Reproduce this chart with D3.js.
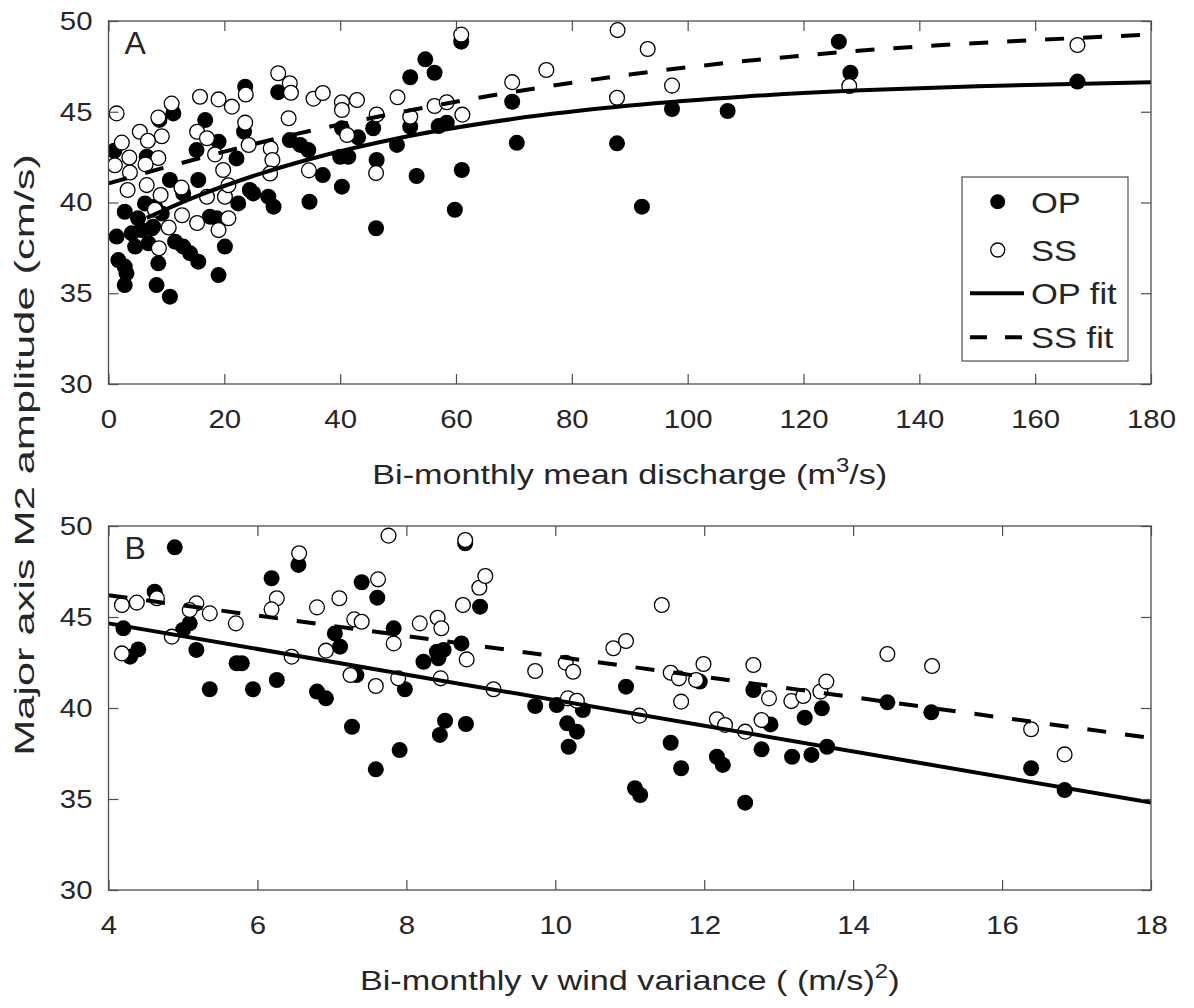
<!DOCTYPE html>
<html><head><meta charset="utf-8">
<script src="https://cdn.jsdelivr.net/npm/d3@7"></script>
<style>
body{margin:0;background:#fff;}
text{font-family:"Liberation Sans",Arial,Helvetica,sans-serif;fill:#262626;}
</style></head>
<body><svg id="chart" width="1194" height="1008"></svg>
<script>
// ---------- DATA ----------
const xTicksA = [0,20,40,60,80,100,120,140,160,180];
const xTicksB = [4,6,8,10,12,14,16,18];
const yTicks = [30,35,40,45,50];

// Panel A: OP (filled) vs discharge
const opA_x = [1.0,6.6,10.6,15.2,15.5,19.0,22.1,11.2,8.8,16.7,23.6,23.4,29.3,2.8,5.1,8.0,6.3,7.5,1.4,4.0,5.7,4.6,6.9,11.5,12.9,14.1,15.5,8.6,1.7,2.8,3.1,2.8,8.3,10.6,19.0,20.1,12.9,22.4,17.5,18.7,24.4,25.0,27.6,28.5,31.3,33.1,34.5,37.0,34.7,40.3,40.0,41.4,40.3,43.1,45.7,46.3,46.2,49.8,52.1,53.2,52.1,54.7,56.3,57.0,58.4,59.8,60.9,61.0,69.7,70.5,87.8,92.1,97.3,106.9,126.1,128.1,167.3,9.2,7.7];
const opA_y = [42.85,42.52,41.24,42.89,41.24,43.35,42.43,44.91,44.55,44.54,46.38,43.90,46.08,39.49,39.13,39.77,39.95,38.58,38.12,38.30,38.48,37.57,37.75,37.84,37.57,37.20,36.74,36.65,36.83,36.47,36.10,35.45,35.45,34.81,36.00,37.57,40.50,39.95,39.22,39.13,40.69,40.50,40.32,39.77,43.44,43.17,42.89,41.51,40.04,40.87,42.52,42.52,44.09,43.59,44.09,42.34,38.58,43.17,44.18,41.46,46.90,47.89,47.15,44.21,44.40,39.60,48.86,41.79,45.55,43.29,43.26,39.77,45.15,45.04,48.86,47.15,46.66,39.40,38.67];

// Panel A: SS (open) vs discharge
const ssA_x = [1.4,29.3,31.3,31.5,23.7,15.8,19.0,21.3,10.9,8.6,35.4,37.0,40.3,42.9,40.3,49.9,46.3,31.1,23.6,5.4,9.2,15.3,17.0,2.3,6.8,8.6,3.6,28.0,28.3,18.4,24.2,1.1,3.7,6.4,19.8,27.9,34.6,3.3,6.6,9.0,12.6,17.0,20.1,20.7,8.0,12.7,15.3,10.4,19.0,20.7,8.7,41.2,46.2,52.1,56.3,58.4,61.1,60.9,69.7,75.6,87.9,93.1,87.8,97.3,127.9,167.3];
const ssA_y = [44.91,47.12,46.57,46.05,45.95,45.83,45.68,45.28,45.45,44.68,45.72,46.03,45.52,45.65,45.10,45.80,44.85,44.64,44.40,43.90,43.65,43.90,43.54,43.30,43.40,42.45,42.48,42.98,42.34,42.65,43.17,42.05,41.65,42.10,41.79,41.60,41.77,40.69,40.96,40.41,40.82,40.32,40.32,40.95,39.60,39.30,38.87,38.62,38.48,39.13,37.48,43.72,41.62,44.73,45.32,45.52,44.84,49.25,46.63,47.30,49.50,48.46,45.77,46.44,46.42,48.68];

// Panel B: OP (filled) vs wind variance
const opB_x = [4.89,4.62,6.55,6.19,7.40,7.61,8.79,8.99,4.20,4.40,4.29,5.09,5.00,5.18,5.36,5.72,5.79,5.94,6.26,6.80,6.92,7.04,7.11,7.27,7.59,7.91,7.83,7.33,7.98,8.23,8.41,8.50,8.43,8.74,8.52,8.45,8.80,9.73,10.02,10.16,10.29,10.18,10.37,10.95,11.07,11.14,11.55,11.69,12.17,12.25,12.55,12.66,12.77,12.89,13.18,13.35,13.44,13.65,13.58,11.94,14.46,15.05,16.39,16.84];
const opB_y = [48.83,46.39,47.86,47.13,46.91,46.06,49.05,45.57,44.38,43.22,42.82,44.65,44.29,43.19,41.03,42.46,42.46,41.03,41.54,40.90,40.53,44.10,43.37,38.97,36.63,37.69,44.38,41.81,41.03,42.54,43.09,43.19,42.73,43.55,39.30,38.52,39.12,40.11,40.16,39.16,38.70,37.87,39.89,41.17,35.59,35.22,38.09,36.69,37.32,36.87,34.80,40.99,37.73,39.10,37.32,39.47,37.42,37.87,39.98,41.45,40.31,39.76,36.69,35.49];

// Panel B: SS (open) vs wind variance
const ssB_x = [4.18,4.18,4.38,4.85,5.18,5.09,5.36,5.71,6.56,6.26,6.19,6.46,6.80,7.10,6.92,7.30,7.40,7.25,7.62,7.76,7.59,7.83,7.89,8.18,8.42,8.47,8.46,8.76,8.81,8.98,9.06,9.17,11.43,10.78,10.95,9.73,10.14,10.24,10.17,10.29,11.13,11.55,11.66,11.69,11.89,11.99,12.17,12.28,12.55,12.66,12.77,12.87,13.17,13.33,13.56,13.64,14.46,15.06,16.39,16.84,8.79,4.65];
const ssB_y = [45.66,43.00,45.79,43.92,45.75,45.38,45.20,44.65,48.50,46.03,45.42,42.82,45.53,46.03,43.15,44.87,44.74,41.81,47.07,49.47,41.21,43.55,41.63,44.65,44.96,44.38,41.63,45.66,42.67,46.61,47.25,41.03,45.66,43.28,43.68,42.03,42.49,41.99,40.53,40.40,39.58,41.94,41.63,40.35,41.54,42.42,39.38,39.07,38.70,42.36,39.34,40.53,40.38,40.66,40.90,41.45,42.97,42.31,38.83,37.45,49.23,46.03];

// Fit curves
const opFitA_x = [6.6,15,25,35,50,70,90,110,130,150,180];
const opFitA_y = [39.15,40.31,41.46,42.41,43.54,44.61,45.34,45.84,46.18,46.41,46.62];
const ssFitA_x = [0,10,20,30,40,50,60,70,80,90,100,120,140,160,180];
const ssFitA_y = [41.05,41.95,42.8,43.6,44.3,44.95,45.55,46.1,46.6,47.05,47.45,48.1,48.6,48.95,49.25];
const opFitB_x = [4,18];
const opFitB_y = [44.65,34.8];
const ssFitB_x = [4,18];
const ssFitB_y = [46.2,38.35];

const legendLabels = ["OP","SS","OP fit","SS fit"];

// ---------- DRAW ----------
const svg = d3.select("#chart");
const L = 108.5, R = 1151;
const panels = [
  {top:21, bot:384, dom:[0,180], ticks:xTicksA, letter:"A",
   op:[opA_x,opA_y], ss:[ssA_x,ssA_y], opFit:[opFitA_x,opFitA_y], ssFit:[ssFitA_x,ssFitA_y],
   title:["Bi-monthly mean discharge (m","3","/s)"], legend:true},
  {top:526, bot:890, dom:[4,18], ticks:xTicksB, letter:"B",
   op:[opB_x,opB_y], ss:[ssB_x,ssB_y], opFit:[opFitB_x,opFitB_y], ssFit:[ssFitB_x,ssFitB_y],
   title:["Bi-monthly v wind variance ( (m/s)","2",")"], legend:false}
];
const axisCol = "#4d4d4d", txtCol = "#262626";
const R_PT = 8;
const tickFont = 26, labFont = 28.5;

function stretch(sel, k) {
  sel.each(function(){
    const w = this.getComputedTextLength();
    d3.select(this).attr("textLength", w*k).attr("lengthAdjust","spacingAndGlyphs");
  });
}

panels.forEach(p => {
  const x = d3.scaleLinear().domain(p.dom).range([L,R]);
  const y = d3.scaleLinear().domain([30,50]).range([p.bot,p.top]);
  const g = svg.append("g");

  const zipP = (a) => a[0].map((v,i)=>[v,a[1][i]]);
  const clip = "clip"+p.letter;
  g.append("clipPath").attr("id",clip).append("rect").attr("x",L).attr("y",p.top).attr("width",R-L).attr("height",p.bot-p.top);
  const pg = g.append("g").attr("clip-path",`url(#${clip})`);
  pg.selectAll("circle.op").data(zipP(p.op)).join("circle").attr("class","op")
    .attr("cx",d=>x(d[0])).attr("cy",d=>y(d[1])).attr("r",R_PT).attr("fill","#000");
  pg.selectAll("circle.ss").data(zipP(p.ss)).join("circle").attr("class","ss")
    .attr("cx",d=>x(d[0])).attr("cy",d=>y(d[1])).attr("r",R_PT-0.6).attr("fill","#fff").attr("stroke","#000").attr("stroke-width",1.3);
  const line = d3.line().x(d=>x(d[0])).y(d=>y(d[1])).curve(d3.curveMonotoneX);
  pg.append("path").datum(zipP(p.opFit)).attr("d",line).attr("fill","none").attr("stroke","#000").attr("stroke-width",4);
  pg.append("path").datum(zipP(p.ssFit)).attr("d",line).attr("fill","none").attr("stroke","#000").attr("stroke-width",4).attr("stroke-dasharray","19,19");

  // axes (ticks inside, MATLAB box)
  const ax = (gen, tr) => {
    const a = g.append("g").attr("transform",tr).call(gen);
    a.select(".domain").remove();
    a.selectAll("line").attr("stroke",axisCol).attr("stroke-width",1.2);
    a.selectAll("text").attr("fill",txtCol).style("font-size",tickFont+"px").attr("font-family",null);
    stretch(a.selectAll("text"), 1.13);
    return a;
  };
  ax(d3.axisBottom(x).tickValues(p.ticks).tickSize(-10).tickSizeOuter(0).tickPadding(26).tickFormat(d3.format("d")), `translate(0,${p.bot})`);
  ax(d3.axisTop(x).tickValues(p.ticks).tickSize(-10).tickSizeOuter(0).tickFormat(""), `translate(0,${p.top})`);
  ax(d3.axisLeft(y).tickValues(yTicks).tickSize(-10).tickSizeOuter(0).tickPadding(16).tickFormat(d3.format("d")), `translate(${L},0)`);
  ax(d3.axisRight(y).tickValues(yTicks).tickSize(-10).tickSizeOuter(0).tickFormat(""), `translate(${R},0)`);
  g.append("rect").attr("x",L).attr("y",p.top).attr("width",R-L).attr("height",p.bot-p.top)
    .attr("fill","none").attr("stroke",axisCol).attr("stroke-width",1.3);

  g.append("text").attr("x",L+16).attr("y",p.top+33).text(p.letter).style("font-size","32px").attr("fill","#000");

  const tg = g.append("g").attr("transform",`translate(${(L+R)/2},${p.bot+100}) scale(1.2,1)`);
  const t = tg.append("text").attr("x",0).attr("y",0).attr("text-anchor","middle").style("font-size",labFont+"px");
  t.append("tspan").text(p.title[0]);
  t.append("tspan").attr("dy",-12).style("font-size","20px").text(p.title[1]);
  t.append("tspan").attr("dy",12).text(p.title[2]);

  if (p.legend) {
    const lx = 962, ly = 177, lw = 166, lh = 184;
    const lg = g.append("g");
    lg.append("rect").attr("x",lx).attr("y",ly).attr("width",lw).attr("height",lh).attr("fill","#fff").attr("stroke",axisCol).attr("stroke-width",1.2);
    const rowsY = [201.7,250,293.3,337.3];
    legendLabels.forEach((lab,i)=>{
      const cy = rowsY[i];
      if (i===0) lg.append("circle").attr("cx",997.7).attr("cy",cy).attr("r",7.5).attr("fill","#000");
      if (i===1) lg.append("circle").attr("cx",997.7).attr("cy",cy).attr("r",7).attr("fill","#fff").attr("stroke","#000").attr("stroke-width",1.3);
      if (i===2) lg.append("line").attr("x1",970).attr("x2",1024).attr("y1",cy).attr("y2",cy).attr("stroke","#000").attr("stroke-width",4);
      if (i===3) lg.append("line").attr("x1",970).attr("x2",1023).attr("y1",cy).attr("y2",cy).attr("stroke","#000").attr("stroke-width",4).attr("stroke-dasharray","17,18");
      const tt = lg.append("text").attr("x",1031).attr("y",cy+11).text(lab).style("font-size","30px").attr("fill","#000");
      stretch(tt, 1.15);
    });
  }
});

svg.append("g").attr("transform","translate(34,455) rotate(-90) scale(1.52,1)")
  .append("text").attr("text-anchor","middle")
  .style("font-size",labFont+"px").text("Major axis M2 amplitude (cm/s)");
</script></body></html>
